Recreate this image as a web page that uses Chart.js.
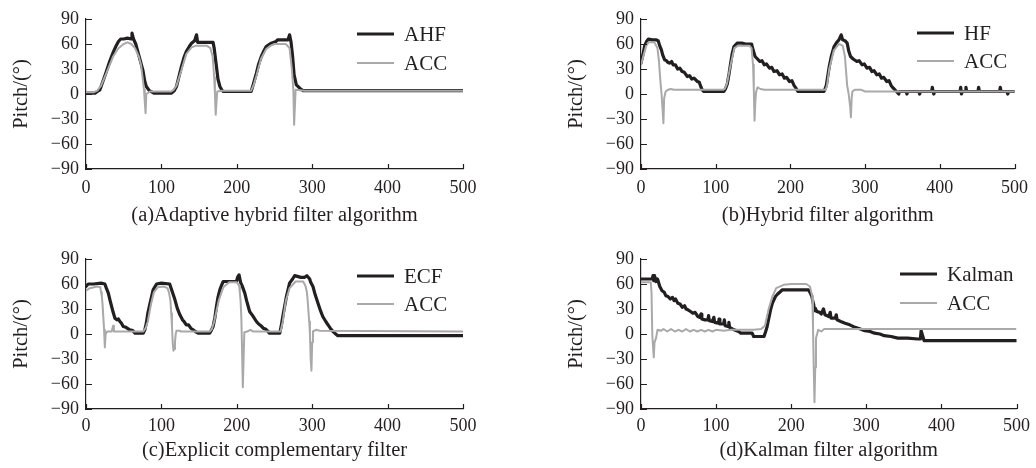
<!DOCTYPE html>
<html>
<head>
<meta charset="utf-8">
<script src="https://cdn.jsdelivr.net/npm/chart.js@4.4.0/dist/chart.umd.min.js"></script>
<style>
  html, body { margin: 0; padding: 0; background: #ffffff; }
  #wrap { position: relative; width: 1036px; height: 468px; overflow: hidden; background: #fff; }
  .panel { position: absolute; width: 518px; height: 234px; }
</style>
</head>
<body>
<div id="wrap">
  <div class="panel" style="left:0;top:0"><canvas id="ca" width="518" height="234"></canvas></div>
  <div class="panel" style="left:518px;top:0"><canvas id="cb" width="518" height="234"></canvas></div>
  <div class="panel" style="left:0;top:234px"><canvas id="cc" width="518" height="234"></canvas></div>
  <div class="panel" style="left:518px;top:234px"><canvas id="cd" width="518" height="234"></canvas></div>
</div>
<script>
// ---------------- DATA ----------------
const xTicks = [0, 100, 200, 300, 400, 500];
const yTicks = [-90, -60, -30, 0, 30, 60, 90];
const captions = [
  "(a)Adaptive hybrid filter algorithm",
  "(b)Hybrid filter algorithm",
  "(c)Explicit complementary filter",
  "(d)Kalman filter algorithm"
];
const seriesNames = [["AHF", "ACC"], ["HF", "ACC"], ["ECF", "ACC"], ["Kalman", "ACC"]];

// panel (a)
const ahf = [[0,1],[12,1],[15,3],[18.5,5],[22,14],[27,27],[31,38],[36,50],[40,58],[43,63],[46,66],[50,66],[55,67],[60,66],[61,73],[63,66],[66,60],[69,50],[72,40],[75.6,28],[78,15],[80,9],[84,4],[90,1],[113,1],[117,4],[120,9],[123,20],[126.6,33],[130,44],[133,51],[137,57],[140,61],[144,64],[146.6,71],[148,62],[155,62],[162,62],[168.5,62],[170,55],[173,33],[175,18],[177.6,9],[180,5],[182,3],[190,3],[219,3],[222,12],[226,25],[229,36],[232.5,45],[236,52],[239,57],[245.7,61],[252,63],[254,65],[260,65],[268,65],[270,71],[272,62],[274,45],[276,23],[279,11],[283.5,7],[288,4],[500,4]];
const accA = [[0,2],[10,2],[15,4],[20,10],[27,25],[36,45],[43,55],[50,60],[55,62],[60,60],[65,55],[70,45],[73,35],[75,20],[77,5],[78,-10],[79,-23],[80,0],[85,3],[113,3],[116,5],[120,10],[127,30],[133,48],[140,56],[146,58],[160,58],[165,55],[168,45],[170,20],[171,0],[172,-25],[174,3],[180,4],[219,4],[222,10],[226,22],[232,42],[239,54],[245,58],[250,60],[265,60],[270,55],[273,30],[275,5],[276,-37],[278,5],[290,4],[500,4]];

// panel (b)
const hf = [[0,37],[3,49],[5,58],[7.5,63],[10,66],[15,65],[20,65],[23,64],[25,58],[27.3,53],[29,47],[31.7,41],[34,40],[36,38],[38,37],[41,39],[43,35],[46,35],[49,30],[52,31],[55,27],[58,26],[62,21],[65,22],[68,18],[71,19],[75.5,15],[78,14],[80,9],[82,5],[84,3],[111,3],[113,6],[115.5,12],[118,25],[120,37],[122,48],[124.5,57],[128.8,61],[135,61],[140,60],[148,60],[150,53],[152.7,45],[156,42],[159,39],[162,40],[165,35],[168,36],[172,31],[175,32],[178,27],[182,28],[185.5,23],[189,24],[192,19],[195,20],[198.7,15],[202,16],[205,10],[207.5,7],[210,3],[245,3],[248,10],[252,33],[255,46],[258.5,57],[262,62],[265,65],[268,71],[270,65],[273,64],[276,61],[278,52],[280.5,45],[284,42],[289,39],[292,40],[296,35],[299,36],[302.5,31],[306,32],[309,27],[312,28],[315.7,23],[319,24],[322,19],[325,20],[329,15],[332,16],[335,10],[337.8,7],[342,3],[345,0],[346,3],[355,3],[356,0],[357,3],[372,3],[373,0],[374,3],[389,3],[390,8],[391,3],[392,0],[393,3],[427,3],[428,8],[429,0],[430,3],[434,3],[435,8],[436,3],[451,3],[452,8],[453,3],[480,3],[481,8],[482,3],[490,3],[491,0],[492,3],[500,3]];
const accB = [[0,35],[3,45],[7,58],[10,62],[18,62],[22,55],[24,40],[26,15],[27.5,0],[29,-20],[30,-35],[31,-5],[33,3],[36,5],[40,6],[44,5],[110,5],[112,6],[115,12],[120,35],[125,55],[130,58],[145,58],[148,55],[150,35],[151,5],[152,-32],[153,-10],[154,2],[156,8],[160,6],[165,5],[247,5],[249,10],[252,30],[258,52],[265,60],[270,58],[273,45],[276,10],[278,0],[280,-15],[281,-28],[282,-5],[283,3],[286,5],[295,5],[300,3],[500,3]];

// panel (c)
const ecf = [[0,57],[3,60],[10,60],[20,61],[25,60],[27,55],[29.6,49],[32,40],[34,33],[36,26],[38.4,19],[41,17],[43,18],[45,15],[47,13],[49.4,9],[53,8],[58,5],[62,4],[65,1],[76,1],[78,5],[80,13],[82,25],[85,37],[89,53],[93.6,60],[100,61],[111,60],[114,52],[118,41],[121,31],[124.5,23],[128,17],[130,15],[133,11],[136,11],[139,7],[142,5],[145,3],[148.8,1],[164,1],[166,4],[168.6,9],[171,20],[173,33],[175,44],[177.5,53],[180,59],[182,63],[190,63],[199.6,63],[201,68],[203,71],[205,62],[207,58],[210.6,49],[213,40],[217,27],[221,22],[226,15],[229,12],[232,10],[235,7],[238,6],[241.5,3],[243,1],[257,1],[259,10],[261,21],[265.8,45],[270,61],[274,66],[276.8,70],[285,68],[290,68],[293,70],[296.7,66],[298,62],[301,57],[304,47],[307.7,37],[311,28],[314,21],[318,15],[321,11],[324,7],[327.5,3],[330,1],[334,-2],[500,-2]];
const accC = [[0,52],[5,55],[15,57],[19,56],[20,50],[21,45],[22,35],[23,20],[24,5],[25,-16],[26,0],[28,3],[34,3],[36,10],[37,3],[40,3],[76,3],[79,7],[82,15],[86,35],[90,50],[95,56],[103,57],[108,55],[110,50],[112,40],[113,25],[114,10],[115,-10],[116,-20],[117,-18],[118,-10],[119,0],[120,4],[124,4],[126,3],[164,3],[167,6],[170,15],[176,40],[182,56],[190,62],[200,62],[203,58],[204,50],[205,40],[206,20],[207,-20],[208,-64],[209,-30],[210,2],[214,3],[218,5],[222,3],[258,3],[261,15],[265,40],[270,55],[278,63],[288,63],[291,58],[293,50],[294,40],[296,15],[297,0],[298,-30],[299,-44],[300,-10],[301,3],[305,5],[310,4],[500,3]];

// panel (d)
const kalman = [[0,66],[10,66],[15,66],[16,70],[17,64],[18,70],[20,63],[22,66],[25,57],[28,52],[31,50],[33,46],[36,45],[39,42],[42,44],[44,40],[46,42],[49,37],[52,36],[55,32],[58,34],[60,30],[62.5,29],[66,27],[69,25],[72,26],[75.7,21],[78,20],[80,24],[81,18],[85,17],[89,17],[90,22],[91,16],[95,15],[97,20],[98,14],[103,13],[104,18],[105,12],[110,12],[111,17],[112,10],[116,9],[117,14],[118,8],[124,5],[130,3],[133,1],[148,1],[150,-3],[163.8,-3],[166,3],[168,9],[170,18],[172.5,29],[175,37],[179,45],[182,48],[185.8,51],[188,53],[223,53],[225,50],[227.6,45],[229,38],[230,35],[231,28],[232,31],[234,27],[238,26],[240,24],[243,30],[245,23],[250,21],[252,26],[253,19],[258.5,19],[260,23],[261,17],[266,15],[271.7,13],[278,11],[285,8],[292,6],[298,4],[305,3],[311,1],[318,0],[324,-2],[333,-3],[342,-5],[355,-5],[368.6,-6],[372,-6],[373,4],[375,-2],[377,-8],[500,-8]];
const accD = [[0,62],[13,62],[14,50],[15,0],[16,-15],[17,-28],[18,-10],[20,-5],[22,5],[27,4],[30,6],[35,3],[40,6],[45,3],[50,5],[55,3],[60,6],[65,3],[70,5],[75,3],[80,5],[85,3],[90,5],[95,3],[100,5],[110,4],[120,5],[130,5],[150,5],[160,6],[165,10],[170,30],[175,45],[180,55],[190,59],[200,60],[220,60],[225,57],[228,45],[229,10],[230,-40],[231,-82],[232,-40],[233,-5],[236,5],[240,3],[244,6],[500,6]];

// ---------------- STYLE ----------------
const INK = '#231f20';
const GREY = '#a9a9a9';
const SERIF = '"Liberation Serif", "Times New Roman", serif';

const panelSeries = [[ahf, accA], [hf, accB], [ecf, accC], [kalman, accD]];

// chart area geometry per panel (style, not data)
const geom = [
  {pad:{left:6, right:55, top:19, bottom:2}, xh:63, xpad:8, leg:{x0:357, x1:394, y:[34,63], tx:404}},
  {pad:{left:43, right:17, top:19, bottom:2}, xh:63, xpad:8, leg:{x0:399, x1:436, y:[33,61], tx:446}},
  {pad:{left:6, right:55, top:25, bottom:1}, xh:58, xpad:6, leg:{x0:357, x1:394, y:[42,70], tx:404}},
  {pad:{left:43, right:17, top:25, bottom:1}, xh:58, xpad:6, leg:{x0:382, x1:419, y:[40,69], tx:429}}
];

const toPts = arr => arr.map(p => ({x: p[0], y: p[1]}));

const inwardTicks = {
  id: 'inwardTicks',
  afterDatasetsDraw(chart) {
    const ctx = chart.ctx;
    const xs = chart.scales.x, ys = chart.scales.y;
    ctx.save();
    ctx.strokeStyle = INK;
    ctx.lineWidth = 1.2;
    ctx.beginPath();
    xs.ticks.forEach(t => {
      const px = Math.round(xs.getPixelForValue(t.value)) + 0.5;
      ctx.moveTo(px, ys.bottom);
      ctx.lineTo(px, ys.bottom - 5);
    });
    ys.ticks.forEach(t => {
      const py = Math.round(ys.getPixelForValue(t.value)) + 0.5;
      ctx.moveTo(xs.left, py);
      ctx.lineTo(xs.left + 6, py);
    });
    ctx.stroke();
    ctx.restore();
  }
};

const customLegend = {
  id: 'customLegend',
  afterDraw(chart, args, opts) {
    const ctx = chart.ctx;
    ctx.save();
    ctx.font = '21px ' + SERIF;
    ctx.textBaseline = 'middle';
    ctx.textAlign = 'left';
    chart.data.datasets.forEach((ds, i) => {
      const y = opts.y[i];
      ctx.strokeStyle = ds.borderColor;
      ctx.lineWidth = i === 0 ? 3 : 2.2;
      ctx.beginPath();
      ctx.moveTo(opts.x0, y);
      ctx.lineTo(opts.x1, y);
      ctx.stroke();
      ctx.fillStyle = INK;
      ctx.fillText(ds.label, opts.tx, y + 1);
    });
    ctx.restore();
  }
};

const ids = ['ca', 'cb', 'cc', 'cd'];
ids.forEach((id, k) => {
  const g = geom[k];
  const [main, acc] = panelSeries[k];
  new Chart(document.getElementById(id), {
    type: 'line',
    data: {
      datasets: [
        {label: seriesNames[k][0], data: toPts(main), borderColor: INK, borderWidth: 3.2, pointRadius: 0, tension: 0, order: 2, borderJoinStyle: 'round', borderCapStyle: 'round'},
        {label: seriesNames[k][1], data: toPts(acc), borderColor: GREY, borderWidth: 2, pointRadius: 0, tension: 0, order: 1, borderJoinStyle: 'round'}
      ]
    },
    options: {
      responsive: false,
      animation: false,
      devicePixelRatio: 1,
      layout: {padding: g.pad},
      plugins: {
        legend: {display: false},
        tooltip: {enabled: false},
        customLegend: g.leg
      },
      scales: {
        x: {
          type: 'linear', min: 0, max: 500,
          afterBuildTicks: s => { s.ticks = xTicks.map(v => ({value: v})); },
          afterFit: s => { s.height = g.xh; },
          grid: {drawOnChartArea: false, drawTicks: false},
          border: {display: true, color: INK, width: 1.2},
          ticks: {color: INK, padding: g.xpad, maxRotation: 0, font: {family: SERIF, size: 18}},
          title: {display: true, text: captions[k], color: INK, padding: {top: 2, bottom: 4}, font: {family: SERIF, size: 20.5}}
        },
        y: {
          type: 'linear', min: -90, max: 90,
          afterBuildTicks: s => { s.ticks = yTicks.map(v => ({value: v})); },
          afterFit: s => { s.width = 80; },
          grid: {drawOnChartArea: false, drawTicks: false},
          border: {display: true, color: INK, width: 1.2},
          ticks: {color: INK, padding: 7, font: {family: SERIF, size: 18},
                  callback: v => String(v).replace('-', '\u2212')},
          title: {display: true, text: 'Pitch/(\u00b0)', color: INK, padding: {top: 3, bottom: 4}, font: {family: SERIF, size: 20.5}}
        }
      }
    },
    plugins: [inwardTicks, customLegend]
  });
});
</script>
</body>
</html>
